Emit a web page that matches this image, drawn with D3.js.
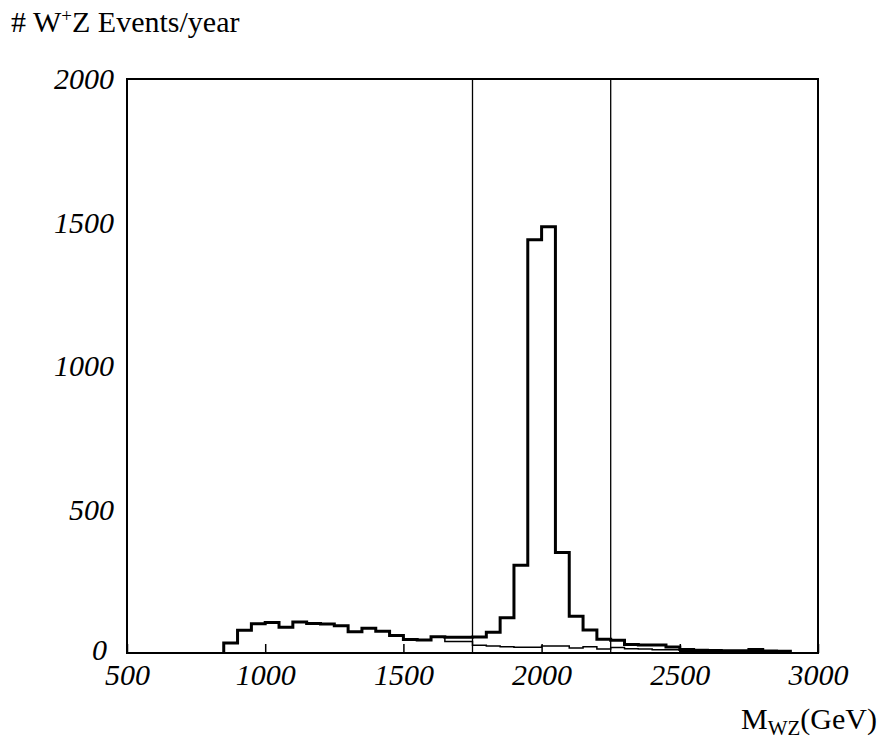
<!DOCTYPE html>
<html><head><meta charset="utf-8">
<script src="https://cdn.jsdelivr.net/npm/d3@7"></script>
<style>
html,body{margin:0;padding:0;background:#fff;}
svg{display:block;}
text{font-family:"Liberation Serif","DejaVu Serif",serif;fill:#000;}
</style>
</head><body>
<svg id="chart" width="889" height="745"></svg>
<script>
// Bin lower edges (GeV), bin width 50
const binEdges = [850,900,950,1000,1050,1100,1150,1200,1250,1300,1350,1400,1450,1500,1550,1600,1650,1700,1750,1800,1850,1900,1950,2000,2050,2100,2150,2200,2250,2300,2350,2400,2450,2500,2550,2600,2650,2700,2750,2800,2850];
const binWidth = 50;
// Total (signal + background), thick line
const totalEvents = [35,79,102,106,90,108,103,101,95,74,86,76,61,47,45,57,55,55,56,72,123,306,1440,1485,350,128,80,48,44,30,28,28,21,12,10,9,8,8,12,7,6];
// Background only, thin line
const bkgEvents = [35,79,102,106,90,108,103,101,95,74,86,76,61,46,44,56,40,40,27,24,22,20,20,24,24,17,22,14,19,15,14,11,11,6,5,4,4,4,5,3,3];
// Axis ticks
const xTicks = [500,1000,1500,2000,2500,3000];
const yTicks = [0,500,1000,1500,2000];
// Window lines
const cutLines = [1750,2250];

const svg = d3.select("#chart");
const x = d3.scaleLinear().domain([500,3000]).range([127,818]);
const y = d3.scaleLinear().domain([0,2000]).range([653,79]);

function stepPoints(vals){
  const pts = [[binEdges[0],0]];
  vals.forEach((v,i)=>{ pts.push([binEdges[i],v]); pts.push([binEdges[i]+binWidth,v]); });
  pts.push([binEdges[binEdges.length-1]+binWidth,0]);
  return pts;
}
const line = d3.line().x(d=>x(d[0])).y(d=>y(d[1]));

// cut lines
svg.selectAll("line.cut").data(cutLines).enter().append("line")
  .attr("x1",d=>x(d)).attr("x2",d=>x(d)).attr("y1",y(0)).attr("y2",y(2000))
  .attr("stroke","#000").attr("stroke-width",1.3);

// background thin
svg.append("path").attr("d",line(stepPoints(bkgEvents)))
  .attr("fill","none").attr("stroke","#000").attr("stroke-width",1.5);
// total thick
svg.append("path").attr("d",line(stepPoints(totalEvents)))
  .attr("fill","none").attr("stroke","#000").attr("stroke-width",3);

// x axis
const xAxis = d3.axisBottom(x).tickValues(xTicks).tickSizeInner(-9).tickSizeOuter(0).tickPadding(11).tickFormat(d3.format("d"));
const gx = svg.append("g").attr("transform",`translate(0,${y(0)})`).call(xAxis);
gx.select(".domain").remove();
gx.selectAll(".tick line").attr("stroke","#000").attr("stroke-width",1.5);
gx.selectAll("text").style("font-family","'Liberation Serif',serif").style("font-style","italic").style("font-size","30px").attr("fill","#000");

// y axis
const yAxis = d3.axisLeft(y).tickValues(yTicks).tickSize(0).tickPadding(13).tickFormat(d3.format("d"));
const gy = svg.append("g").attr("transform",`translate(${x(500)},0)`).call(yAxis);
gy.select(".domain").remove();
gy.selectAll("text").style("font-family","'Liberation Serif',serif").style("font-style","italic").style("font-size","30px").attr("fill","#000");
gy.selectAll(".tick").filter(d=>d===0).select("text").attr("dy","0.22em").attr("x",-20);

// frame
svg.append("rect").attr("x",x(500)).attr("y",y(2000)).attr("width",x(3000)-x(500)).attr("height",y(0)-y(2000))
  .attr("fill","none").attr("stroke","#000").attr("stroke-width",2);

// title
const t = svg.append("text").attr("x",11).attr("y",32).style("font-size","30px");
t.append("tspan").text("# W");
t.append("tspan").attr("dy",-10).style("font-size","19px").text("+");
t.append("tspan").attr("dy",10).text("Z Events/year");

// x label
const xl = svg.append("text").attr("x",741).attr("y",729).style("font-size","30px");
xl.append("tspan").text("M");
xl.append("tspan").attr("dy",6).style("font-size","21px").text("WZ");
xl.append("tspan").attr("dy",-6).text("(GeV)");
</script>
</body></html>
